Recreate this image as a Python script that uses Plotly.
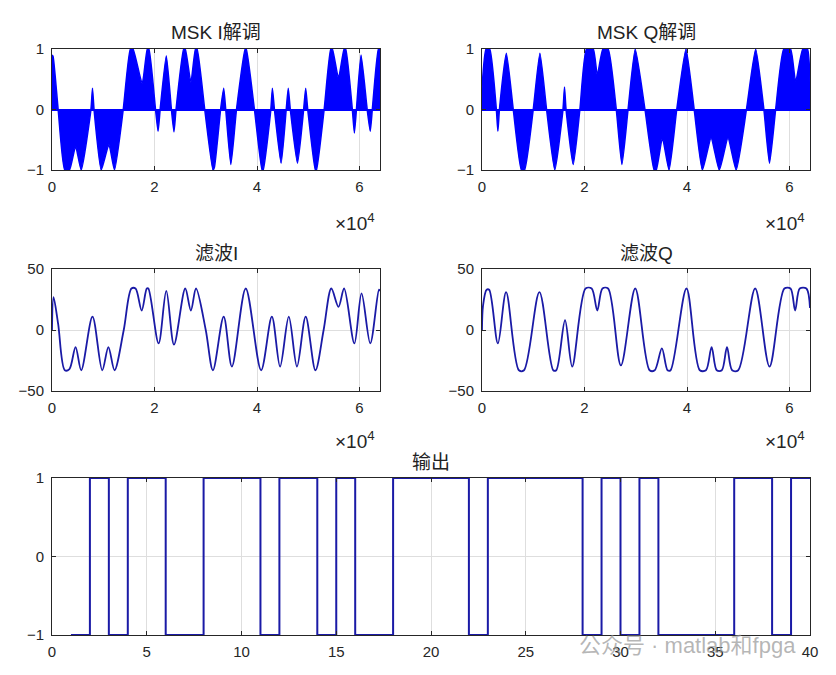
import plotly.graph_objects as go

# ---------------- data ----------------
# MSK I demodulated signal envelope (x in units of 1e4 samples)
msk_i_x = [0.00, 0.02, 0.12, 0.25, 0.34, 0.46, 0.57, 0.76, 0.79, 0.82, 0.96, 1.11, 1.22, 1.39,
           1.53, 1.58, 1.76, 1.86, 1.89, 2.02, 2.07, 2.11, 2.23, 2.33, 2.38, 2.42, 2.57, 2.60,
           2.71, 2.80, 2.83, 2.98, 3.14, 3.17, 3.29, 3.35, 3.39, 3.49, 3.60, 3.77, 3.79, 3.95,
           4.10, 4.12, 4.27, 4.30, 4.34, 4.47, 4.57, 4.61, 4.65, 4.79, 4.91, 4.95, 4.99, 5.14,
           5.16, 5.31, 5.44, 5.47, 5.59, 5.70, 5.73, 5.86, 5.90, 5.94, 6.03, 6.15, 6.21, 6.25,
           6.37, 6.40]
msk_i_y = [0.90, 0.88, 0.00, -1.00, -1.00, -0.61, -1.00, 0.00, 0.35, 0.00, -1.00, -0.58, -1.00, 0.00,
           1.00, 1.00, 0.43, 1.00, 1.00, 0.00, -0.36, 0.00, 0.89, 0.00, -0.37, 0.00, 1.00, 1.00,
           0.45, 1.00, 1.00, 0.00, -1.00, -0.95, 0.00, 0.35, 0.00, -0.91, 0.00, 1.00, 1.00, 0.00,
           -1.00, -1.00, 0.00, 0.35, 0.00, -0.89, 0.00, 0.35, 0.00, -0.89, 0.00, 0.35, 0.00, -1.00,
           -1.00, 0.00, 1.00, 1.00, 0.52, 1.00, 1.00, 0.00, -0.39, 0.00, 0.90, 0.00, -0.36, 0.00,
           1.00, 1.00]

# MSK Q demodulated signal envelope
msk_q_x = [0.00, 0.08, 0.15, 0.28, 0.31, 0.34, 0.475, 0.61, 0.77, 0.83, 1.00, 1.13, 1.26, 1.42,
           1.58, 1.61, 1.64, 1.78, 1.91, 2.04, 2.17, 2.25, 2.36, 2.46, 2.62, 2.73, 2.85, 2.99,
           3.18, 3.36, 3.40, 3.52, 3.65, 3.80, 3.98, 4.14, 4.30, 4.47, 4.63, 4.80, 4.96, 5.16,
           5.34, 5.50, 5.61, 5.73, 5.89, 6.02, 6.12, 6.26, 6.35, 6.40]
msk_q_y = [0.35, 1.00, 1.00, 0.00, -0.36, 0.00, 0.93, 0.00, -1.00, -1.00, 0.00, 0.93, 0.00, -1.00,
           0.00, 0.37, 0.00, -0.91, 0.00, 1.00, 1.00, 0.57, 1.00, 1.00, 0.00, -0.91, 0.00, 1.00,
           0.00, -1.00, -1.00, -0.47, -1.00, 0.00, 1.00, 0.00, -1.00, -0.47, -1.00, -0.47, -1.00, 0.00,
           1.00, 0.00, -0.89, 0.00, 1.00, 1.00, 0.46, 1.00, 1.00, 0.45]

# Filtered I
filt_i_x = [0.00, 0.03, 0.12, 0.25, 0.34, 0.46, 0.57, 0.79, 0.98, 1.10, 1.22, 1.40, 1.55, 1.63,
            1.75, 1.85, 1.88, 2.08, 2.23, 2.38, 2.60, 2.71, 2.81, 3.00, 3.14, 3.35, 3.51, 3.78,
            4.08, 4.29, 4.45, 4.62, 4.78, 4.95, 5.14, 5.30, 5.45, 5.59, 5.70, 5.90, 6.04, 6.21,
            6.38, 6.40]
filt_i_y = [0, 27, 5, -33, -32, -14, -33, 11, -33, -14, -33, 0, 34, 34,
            16, 34, 34, -11, 32, -12, 34, 16, 34, 0, -33, 11, -30, 34,
            -33, 11, -30, 11, -30, 11, -33, 0, 34, 19, 34, -11, 30, -11,
            33, 32]

# Filtered Q
filt_q_x = [0.00, 0.02, 0.09, 0.14, 0.31, 0.47, 0.72, 0.82, 1.12, 1.39, 1.45, 1.62, 1.76, 2.02,
            2.14, 2.25, 2.35, 2.46, 2.71, 2.99, 3.27, 3.37, 3.51, 3.62, 3.68, 3.99, 4.25, 4.37,
            4.48, 4.58, 4.68, 4.78, 4.88, 5.00, 5.33, 5.61, 5.90, 6.02, 6.11, 6.20, 6.33, 6.40]
filt_q_y = [0, 20, 33, 33, -11, 31, -33, -33, 31, -33, -33, 8, -30, 34,
            34, 16, 34, 34, -29, 34, -33, -33, -15, -33, -33, 34, -33, -33,
            -14, -33, -33, -14, -33, -33, 34, -30, 34, 34, 16, 34, 34, 18]

# Output bits
out_x = list(range(1, 41))
out_bits = [-1, 1, -1, 1, 1, -1, -1, 1, 1, 1, -1, 1, 1, -1, 1, -1, -1, 1, 1, 1,
            1, -1, 1, 1, 1, 1, 1, -1, 1, -1, 1, -1, -1, -1, -1, 1, 1, -1, 1, 1]

titles = ["MSK I解调", "MSK Q解调", "滤波I", "滤波Q", "输出"]
top_xticks = [0, 2, 4, 6]
top_yticks = [-1, 0, 1]
mid_yticks = [-50, 0, 50]
bot_xticks = [0, 5, 10, 15, 20, 25, 30, 35, 40]
bot_yticks = [-1, 0, 1]

# ---------------- figure ----------------
W, H = 836, 675
FONT = "Arial, Liberation Sans, Noto Sans CJK SC, sans-serif"
AX = "#262626"
BLUE = "#0000ff"
NAVY = "#1a1aa6"


def xd(a, b):
    return [a / W, b / W]


def yd(top, bottom):
    return [1 - bottom / H, 1 - top / H]


def axis(domain, rng, tickvals, anchor, **kw):
    d = dict(domain=domain, range=rng, tickvals=tickvals, anchor=anchor,
             ticks="inside", ticklen=4, tickcolor=AX, tickwidth=1,
             showline=True, linecolor=AX, linewidth=1, mirror="ticks",
             showgrid=True, gridcolor="#dedede", gridwidth=1, zeroline=False,
             tickfont=dict(size=15, color=AX, family=FONT), fixedrange=True,
             automargin=False)
    d.update(kw)
    return d


LX, RX = (52, 380), (482, 810)
TOPY, MIDY, BOTY = (49, 170), (269, 391), (478, 635)

fig = go.Figure()

# top plots: filled demodulated envelopes
fig.add_trace(go.Scatter(x=msk_i_x, y=msk_i_y, mode="lines", fill="tozeroy",
                         line=dict(color=BLUE, width=1.5, shape="spline", smoothing=0.5),
                         fillcolor=BLUE, xaxis="x", yaxis="y", showlegend=False))
fig.add_trace(go.Scatter(x=msk_q_x, y=msk_q_y, mode="lines", fill="tozeroy",
                         line=dict(color=BLUE, width=1.5, shape="spline", smoothing=0.5),
                         fillcolor=BLUE, xaxis="x2", yaxis="y2", showlegend=False))
# middle plots: filtered
fig.add_trace(go.Scatter(x=filt_i_x, y=filt_i_y, mode="lines",
                         line=dict(color=NAVY, width=1.8, shape="spline", smoothing=0.9),
                         xaxis="x3", yaxis="y3", showlegend=False))
fig.add_trace(go.Scatter(x=filt_q_x, y=filt_q_y, mode="lines",
                         line=dict(color=NAVY, width=1.8, shape="spline", smoothing=0.9),
                         xaxis="x4", yaxis="y4", showlegend=False))
# bottom: output stairs
fig.add_trace(go.Scatter(x=out_x, y=out_bits, mode="lines",
                         line=dict(color=NAVY, width=2, shape="hv"),
                         xaxis="x5", yaxis="y5", showlegend=False))

layout = dict(
    width=W, height=H, margin=dict(l=0, r=0, t=0, b=0, pad=0, autoexpand=False),
    paper_bgcolor="white", plot_bgcolor="white",
    font=dict(family=FONT, color=AX),
    xaxis=axis(xd(*LX), [0, 6.4], top_xticks, "y", ticklabelstandoff=3),
    yaxis=axis(yd(*TOPY), [-1, 1], top_yticks, "x", ticklabelstandoff=4,
               zeroline=True, zerolinecolor=BLUE, zerolinewidth=1.5),
    xaxis2=axis(xd(*RX), [0, 6.4], top_xticks, "y2", ticklabelstandoff=3),
    yaxis2=axis(yd(*TOPY), [-1, 1], top_yticks, "x2", ticklabelstandoff=4,
                zeroline=True, zerolinecolor=BLUE, zerolinewidth=1.5),
    xaxis3=axis(xd(*LX), [0, 6.4], top_xticks, "y3", ticklabelstandoff=3),
    yaxis3=axis(yd(*MIDY), [-50, 50], mid_yticks, "x3", ticklabelstandoff=4),
    xaxis4=axis(xd(*RX), [0, 6.4], top_xticks, "y4", ticklabelstandoff=3),
    yaxis4=axis(yd(*MIDY), [-50, 50], mid_yticks, "x4", ticklabelstandoff=4),
    xaxis5=axis(xd(52, 810), [0, 40], bot_xticks, "y5", ticklabelstandoff=3),
    yaxis5=axis(yd(*BOTY), [-1, 1], bot_yticks, "x5", ticklabelstandoff=4),
)

ann = []
title_pos = [((LX[0] + LX[1]) / 2, 32), ((RX[0] + RX[1]) / 2, 32),
             ((LX[0] + LX[1]) / 2, 253), ((RX[0] + RX[1]) / 2, 253),
             ((52 + 810) / 2, 462)]
for t, (px, py) in zip(titles, title_pos):
    ann.append(dict(text=t, x=px / W, y=1 - py / H, xref="paper", yref="paper",
                    xanchor="center", yanchor="middle", showarrow=False,
                    font=dict(size=19, color="#222222", family=FONT)))
for px, py in [(377, 222), (807, 222), (377, 440), (807, 440)]:
    ann.append(dict(text="×10<sup>4</sup>", x=px / W, y=1 - py / H, xref="paper", yref="paper",
                    xanchor="right", yanchor="middle", showarrow=False,
                    font=dict(size=19, color=AX, family=FONT)))
ann.append(dict(text="公众号 · matlab和fpga", x=798 / W, y=1 - 645 / H, xref="paper", yref="paper",
                xanchor="right", yanchor="middle", showarrow=False,
                font=dict(size=22, color="rgba(150,150,150,0.7)", family=FONT)))
layout["annotations"] = ann

fig.update_layout(**layout)
fig.write_html("out.html",
               post_script="document.body.style.margin='0';document.body.style.overflow='hidden';")
